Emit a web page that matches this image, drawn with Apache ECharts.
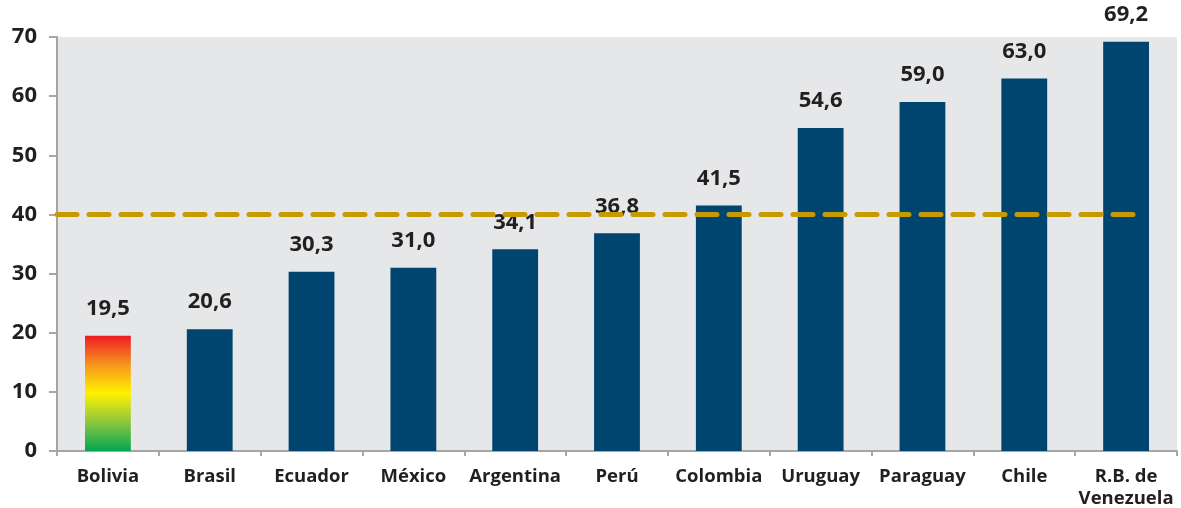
<!DOCTYPE html>
<html>
<head>
<meta charset="utf-8">
<script src="https://cdn.jsdelivr.net/npm/echarts@6/dist/echarts.min.js"></script>
<style>
    html, body { margin: 0; padding: 0; background: #fff; }
    #chart { width: 1181px; height: 508px; }
</style>
</head>
<body>
<div id="chart"></div>
<script>
    // datos
    var paises = ["Bolivia", "Brasil", "Ecuador", "México", "Argentina", "Perú",
        "Colombia", "Uruguay", "Paraguay", "Chile", "R.B. de\nVenezuela"];
    var valores = [19.5, 20.6, 30.3, 31.0, 34.1, 36.8, 41.5, 54.6, 59.0, 63.0, 69.2];
    var umbral = 40;
    var yTicks = [0, 10, 20, 30, 40, 50, 60, 70];

    var fuente = "Open Sans";
    var textoColor = "#231f20";
    var ejeColor = "#a6a6a6";

    var chart = echarts.init(document.getElementById("chart"));

    var barData = valores.map(function (v, i) {
        if (i === 0) {
            // Bolivia con degradado rojo -> amarillo -> verde
            return {
                value: v,
                itemStyle: {
                    color: new echarts.graphic.LinearGradient(0, 0, 0, 1, [
                        { offset: 0, color: "#ed1c24" },
                        { offset: 0.25, color: "#f7941d" },
                        { offset: 0.5, color: "#fff200" },
                        { offset: 0.75, color: "#8dc63f" },
                        { offset: 1, color: "#00a651" }
                    ])
                }
            };
        }
        return v;
    });

    var option = {
        animation: false,
        grid: {
            left: 57,
            right: 4,
            top: 37,
            bottom: 57,
            show: true,
            backgroundColor: "#e6e7e9",
            borderWidth: 0,
            outerBoundsMode: "none"
        },
        xAxis: [
            {
                type: "category",
                data: paises,
                axisLine: { lineStyle: { color: ejeColor, width: 2 } },
                axisTick: { show: true, length: 5, lineStyle: { color: ejeColor, width: 2 } },
                axisLabel: {
                    interval: 0,
                    color: textoColor,
                    fontFamily: fuente,
                    fontWeight: "bold",
                    fontSize: 18.5,
                    lineHeight: 22,
                    margin: 15
                }
            },
            {
                type: "value",
                min: 0,
                max: paises.length,
                show: false
            }
        ],
        yAxis: {
            type: "value",
            min: yTicks[0],
            max: yTicks[yTicks.length - 1],
            interval: 10,
            splitLine: { show: false },
            axisLine: { show: true, lineStyle: { color: ejeColor, width: 2 } },
            axisTick: { show: true, length: 8, lineStyle: { color: ejeColor, width: 2 } },
            axisLabel: {
                color: textoColor,
                fontFamily: fuente,
                fontWeight: "bold",
                fontSize: 22,
                margin: 20
            }
        },
        series: [
            {
                type: "bar",
                data: barData,
                barWidth: "45%",
                itemStyle: { color: "#00456f" },
                label: {
                    show: true,
                    position: "top",
                    distance: 16,
                    color: textoColor,
                    fontFamily: fuente,
                    fontWeight: "bold",
                    fontSize: 22,
                    formatter: function (p) {
                        return p.value.toFixed(1).replace(".", ",");
                    }
                },
                z: 2
            },
            {
                // línea de referencia en 40
                type: "line",
                xAxisIndex: 1,
                data: [[0, umbral], [paises.length - 0.32, umbral]],
                symbol: "none",
                lineStyle: {
                    color: "#c59b00",
                    width: 5,
                    type: [20, 12],
                    cap: "round"
                },
                z: 5
            }
        ]
    };

    chart.setOption(option);
</script>
</body>
</html>
